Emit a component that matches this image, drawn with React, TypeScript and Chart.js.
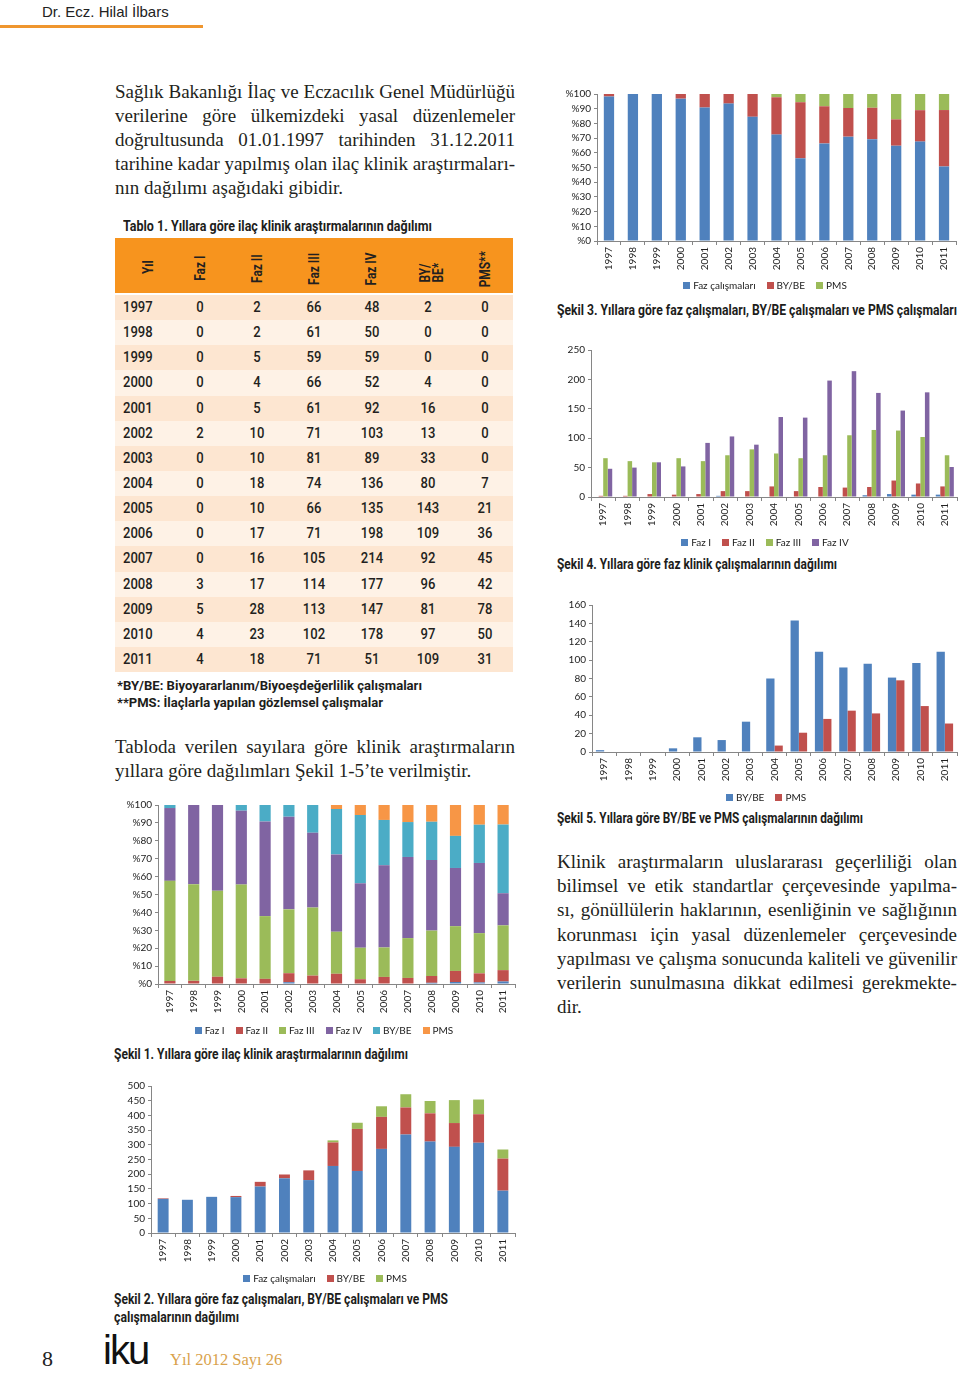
import React, { useEffect, useLayoutEffect, useRef } from 'react';
import { Chart, registerables } from 'chart.js';

Chart.register(...registerables);

// ---------- data (Tablo 1) ----------
const years = ['1997', '1998', '1999', '2000', '2001', '2002', '2003', '2004', '2005', '2006', '2007', '2008', '2009', '2010', '2011'];
const fazI = [0, 0, 0, 0, 0, 2, 0, 0, 0, 0, 0, 3, 5, 4, 4];
const fazII = [2, 2, 5, 4, 5, 10, 10, 18, 10, 17, 16, 17, 28, 23, 18];
const fazIII = [66, 61, 59, 66, 61, 71, 81, 74, 66, 71, 105, 114, 113, 102, 71];
const fazIV = [48, 50, 59, 52, 92, 103, 89, 136, 135, 198, 214, 177, 147, 178, 51];
const byBe = [2, 0, 0, 4, 16, 13, 33, 80, 143, 109, 92, 96, 81, 97, 109];
const pms = [0, 0, 0, 0, 0, 0, 0, 7, 21, 36, 45, 42, 78, 50, 31];

const tableHeaders = ['Yıl', 'Faz I', 'Faz II', 'Faz III', 'Faz IV', 'BY/\nBE*', 'PMS**'];
const seriesNames6 = ['Faz I', 'Faz II', 'Faz III', 'Faz IV', 'BY/BE', 'PMS'];
const seriesNames3 = ['Faz çalışmaları', 'BY/BE', 'PMS'];
const seriesNames2 = ['BY/BE', 'PMS'];

// derived tables
const fazTotal = years.map((_, i) => fazI[i] + fazII[i] + fazIII[i] + fazIV[i]);
const allTotal = years.map((_, i) => fazTotal[i] + byBe[i] + pms[i]);
const pct = (arr: number[]) => arr.map((v, i) => (v / allTotal[i]) * 100);

// ---------- styles ----------
const C_BLUE = '#4F81BD';
const C_RED = '#C0504D';
const C_GREEN = '#9BBB59';
const C_PURPLE = '#8064A2';
const C_TEAL = '#4BACC6';
const C_ORANGE = '#F79646';
const AXIS = '#868686';
const TXT = '#222';
const CHART_FONT = 'Lato, "Open Sans", sans-serif';
const SERIF = '"Liberation Serif", "DejaVu Serif", serif';
const SANS = '"Liberation Sans", Arial, sans-serif';
const COND = 'Roboto, "Liberation Sans", sans-serif';

const legendPlugin = {
  id: 'xlegend',
  afterDraw(chart: any, _a: any, o: any) {
    const ctx = chart.ctx as CanvasRenderingContext2D;
    ctx.save();
    ctx.font = `${o.size || 10}px ${CHART_FONT}`;
    const items = chart.data.datasets.map((d: any) => ({ t: d.label, c: d.backgroundColor }));
    const SQ = 7, G = 3, IG = 11;
    const widths = items.map((it: any) => SQ + G + ctx.measureText(it.t).width);
    const total = widths.reduce((a: number, b: number) => a + b, 0) + IG * (items.length - 1);
    let x = o.cx - total / 2;
    ctx.textBaseline = 'middle';
    ctx.textAlign = 'left';
    items.forEach((it: any, k: number) => {
      ctx.fillStyle = it.c;
      ctx.fillRect(Math.round(x), Math.round(o.cy - SQ / 2), SQ, SQ);
      ctx.fillStyle = TXT;
      ctx.fillText(it.t, x + SQ + G, o.cy + 0.5);
      x += widths[k] + IG;
    });
    ctx.restore();
  },
};

type Box = { x: number; y: number; w: number; h: number };
type Area = { l: number; t: number; r: number; b: number };
type DS = { label: string; data: number[]; color: string };

function buildConfig(
  box: Box,
  area: Area,
  datasets: DS[],
  stacked: boolean,
  yMax: number,
  yStep: number,
  percent: boolean,
  catPct: number,
  legend: { x: number; y: number }
): any {
  const XH = 30;
  const yWidth = area.l - box.x;
  const padTop = area.t - box.y;
  const padRight = box.x + box.w - area.r;
  const padBottom = box.y + box.h - area.b - XH;
  const font = { family: CHART_FONT, size: 10 };
  return {
    type: 'bar',
    data: {
      labels: years,
      datasets: datasets.map((d) => ({
        label: d.label,
        data: d.data,
        backgroundColor: d.color,
        borderWidth: 0,
        categoryPercentage: catPct,
        barPercentage: 1,
      })),
    },
    options: {
      responsive: false,
      animation: false,
      layout: { padding: { left: 0, top: padTop, right: padRight, bottom: padBottom } },
      plugins: {
        legend: { display: false },
        tooltip: { enabled: false },
        xlegend: { cx: legend.x - box.x, cy: legend.y - box.y, size: 10 },
      },
      scales: {
        x: {
          stacked,
          offset: true,
          grid: { display: true, offset: true, drawOnChartArea: false, drawTicks: true, tickLength: 4, color: AXIS },
          border: { display: true, color: AXIS },
          ticks: { minRotation: 90, maxRotation: 90, autoSkip: false, padding: 2, font, color: TXT },
          afterFit: (s: any) => {
            s.height = XH;
          },
        },
        y: {
          stacked,
          min: 0,
          max: yMax,
          grid: { display: true, drawOnChartArea: false, drawTicks: true, tickLength: 3, color: AXIS },
          border: { display: true, color: AXIS },
          ticks: {
            stepSize: yStep,
            autoSkip: false,
            padding: 3,
            font,
            color: TXT,
            callback: (v: any) => (percent ? '%' + v : String(v)),
          },
          afterFit: (s: any) => {
            s.width = yWidth;
          },
        },
      },
    },
    plugins: [legendPlugin],
  };
}

function ChartBox({ box, config }: { box: Box; config: any }) {
  const ref = useRef<HTMLCanvasElement>(null);
  useEffect(() => {
    const c = new Chart(ref.current as HTMLCanvasElement, config);
    return () => c.destroy();
  }, []);
  return (
    <canvas
      ref={ref}
      width={box.w}
      height={box.h}
      style={{ position: 'absolute', left: box.x, top: box.y, width: box.w, height: box.h }}
    />
  );
}

function Fit({ w, x, cy, size, children, weight = 700 }: { w: number; x: number; cy: number; size: number; children: any; weight?: number }) {
  const ref = useRef<HTMLSpanElement>(null);
  useLayoutEffect(() => {
    const el = ref.current;
    if (!el) return;
    el.style.transform = 'none';
    const nat = el.getBoundingClientRect().width;
    if (nat > 0) el.style.transform = `scaleX(${w / nat})`;
  }, [w]);
  return (
    <span
      ref={ref}
      style={{
        position: 'absolute',
        left: x,
        top: cy - size * 0.6,
        lineHeight: `${size * 1.2}px`,
        fontSize: size,
        fontFamily: COND,
        fontWeight: weight,
        color: '#1d1d1b',
        whiteSpace: 'nowrap',
        display: 'inline-block',
        transformOrigin: 'left center',
      }}
    >
      {children}
    </span>
  );
}

function Para({ x, top, w, lh, lines }: { x: number; top: number; w: number; lh: number; lines: string[] }) {
  return (
    <div style={{ position: 'absolute', left: x, top, width: w, fontFamily: SERIF, fontSize: 19, lineHeight: `${lh}px`, color: '#231f20' }}>
      {lines.map((t, i) =>
        i === lines.length - 1 ? (
          <div key={i} style={{ whiteSpace: 'nowrap', height: lh }}>{t}</div>
        ) : (
          <div key={i} style={{ display: 'flex', justifyContent: 'space-between', width: w, whiteSpace: 'nowrap', height: lh }}>
            {t.split(' ').map((wd, k) => (
              <span key={k}>{wd}</span>
            ))}
          </div>
        )
      )}
    </div>
  );
}

const intro = [
  'Sağlık Bakanlığı İlaç ve Eczacılık Genel Müdürlüğü',
  'verilerine göre ülkemizdeki yasal düzenlemeler',
  'doğrultusunda 01.01.1997 tarihinden 31.12.2011',
  'tarihine kadar yapılmış olan ilaç klinik araştırmaları-',
  'nın dağılımı aşağıdaki gibidir.',
];
const para2 = ['Tabloda verilen sayılara göre klinik araştırmaların', 'yıllara göre dağılımları Şekil 1-5’te verilmiştir.'];
const para3 = [
  'Klinik araştırmaların uluslararası geçerliliği olan',
  'bilimsel ve etik standartlar çerçevesinde yapılma-',
  'sı, gönüllülerin haklarının, esenliğinin ve sağlığının',
  'korunması için yasal düzenlemeler çerçevesinde',
  'yapılması ve çalışma sonucunda kaliteli ve güvenilir',
  'verilerin sunulmasına dikkat edilmesi gerekmekte-',
  'dir.',
];

const headerX = [148, 200, 257, 314, 371, 432, 485];
const colX = [200, 257, 314, 372, 428, 485];

function Table() {
  const rowH = 25.14;
  return (
    <>
      <div style={{ position: 'absolute', left: 115, top: 238, width: 398, height: 55, background: '#F7941E' }} />
      {tableHeaders.map((h, i) => (
        <div
          key={h}
          style={{
            position: 'absolute',
            left: headerX[i],
            top: i === 5 ? 271 : 266,
            transform: 'translate(-50%, -50%) rotate(-90deg)',
            whiteSpace: 'pre',
            fontFamily: COND,
            fontWeight: 700,
            fontSize: 14,
            lineHeight: '13px',
            color: '#231f20',
            textAlign: 'left',
          }}
        >
          <span style={{ display: 'inline-block', transform: 'scaleX(0.85)', transformOrigin: 'left center' }}>{h}</span>
        </div>
      ))}
      {years.map((y, i) => {
        const vals = [fazI[i], fazII[i], fazIII[i], fazIV[i], byBe[i], pms[i]];
        return (
          <div
            key={y}
            style={{
              position: 'absolute',
              left: 115,
              top: 295 + i * rowH,
              width: 398,
              height: rowH,
              background: i % 2 === 0 ? '#FDE6D1' : '#FEF2E6',
              fontFamily: COND,
              fontWeight: 500,
              fontSize: 14.5,
              color: '#231f20',
            }}
          >
            <span style={{ position: 'absolute', left: 8, top: 0, lineHeight: `${rowH}px`, transform: 'scaleX(0.9)', transformOrigin: 'left center', display: 'inline-block' }}>{y}</span>
            {vals.map((v, k) => (
              <span
                key={k}
                style={{ position: 'absolute', left: colX[k] - 115, top: 0, lineHeight: `${rowH}px`, transform: 'translateX(-50%) scaleX(0.9)', display: 'inline-block' }}
              >
                {v}
              </span>
            ))}
          </div>
        );
      })}
    </>
  );
}

export default function App() {
  const b1 = { x: 105, y: 795, w: 420, h: 245 };
  const a1 = { l: 158, t: 805, r: 515, b: 984 };
  const cfg1 = buildConfig(
    b1,
    a1,
    [
      { label: seriesNames6[0], data: pct(fazI), color: C_BLUE },
      { label: seriesNames6[1], data: pct(fazII), color: C_RED },
      { label: seriesNames6[2], data: pct(fazIII), color: C_GREEN },
      { label: seriesNames6[3], data: pct(fazIV), color: C_PURPLE },
      { label: seriesNames6[4], data: pct(byBe), color: C_TEAL },
      { label: seriesNames6[5], data: pct(pms), color: C_ORANGE },
    ],
    true,
    100,
    10,
    true,
    0.47,
    { x: 324, y: 1030 }
  );

  const b2 = { x: 105, y: 1076, w: 420, h: 212 };
  const a2 = { l: 151, t: 1086, r: 515, b: 1233 };
  const cfg2 = buildConfig(
    b2,
    a2,
    [
      { label: seriesNames3[0], data: fazTotal, color: C_BLUE },
      { label: seriesNames3[1], data: byBe, color: C_RED },
      { label: seriesNames3[2], data: pms, color: C_GREEN },
    ],
    true,
    500,
    50,
    false,
    0.45,
    { x: 325, y: 1278 }
  );

  const b3 = { x: 555, y: 84, w: 405, h: 210 };
  const a3 = { l: 597, t: 94, r: 956, b: 241 };
  const cfg3 = buildConfig(
    b3,
    a3,
    [
      { label: seriesNames3[0], data: pct(fazTotal), color: C_BLUE },
      { label: seriesNames3[1], data: pct(byBe), color: C_RED },
      { label: seriesNames3[2], data: pct(pms), color: C_GREEN },
    ],
    true,
    100,
    10,
    true,
    0.43,
    { x: 765, y: 285 }
  );

  const b4 = { x: 555, y: 338, w: 405, h: 214 };
  const a4 = { l: 591, t: 350, r: 957, b: 497 };
  const cfg4 = buildConfig(
    b4,
    a4,
    [
      { label: seriesNames6[0], data: fazI, color: C_BLUE },
      { label: seriesNames6[1], data: fazII, color: C_RED },
      { label: seriesNames6[2], data: fazIII, color: C_GREEN },
      { label: seriesNames6[3], data: fazIV, color: C_PURPLE },
    ],
    false,
    250,
    50,
    false,
    0.74,
    { x: 765, y: 542 }
  );

  const b5 = { x: 555, y: 593, w: 405, h: 214 };
  const a5 = { l: 592, t: 605, r: 957, b: 752 };
  const cfg5 = buildConfig(
    b5,
    a5,
    [
      { label: seriesNames2[0], data: byBe, color: C_BLUE },
      { label: seriesNames2[1], data: pms, color: C_RED },
    ],
    false,
    160,
    20,
    false,
    0.68,
    { x: 766, y: 797 }
  );

  return (
    <div style={{ position: 'absolute', left: 0, top: 0, width: 960, height: 1376, background: '#fff', overflow: 'hidden' }}>
      <div style={{ position: 'absolute', left: 42, top: 3, fontFamily: SANS, fontSize: 15, lineHeight: '18px', color: '#222', whiteSpace: 'nowrap' }}>
        Dr. Ecz. Hilal İlbars
      </div>
      <div style={{ position: 'absolute', left: 0, top: 25, width: 203, height: 3, background: '#EF962F' }} />

      <Para x={115} top={80} w={400} lh={24} lines={intro} />
      <Fit x={123} cy={226} w={309} size={14}>Tablo 1. Yıllara göre ilaç klinik araştırmalarının dağılımı</Fit>
      <Table />
      <Fit x={117} cy={686} w={305} size={13}>*BY/BE: Biyoyararlanım/Biyoeşdeğerlilik çalışmaları</Fit>
      <Fit x={117} cy={703} w={266} size={13}>**PMS: İlaçlarla yapılan gözlemsel çalışmalar</Fit>
      <Para x={115} top={735} w={400} lh={24} lines={para2} />

      <ChartBox box={b1} config={cfg1} />
      <Fit x={114} cy={1054} w={294} size={14}>Şekil 1. Yıllara göre ilaç klinik araştırmalarının dağılımı</Fit>

      <ChartBox box={b2} config={cfg2} />
      <Fit x={114} cy={1299} w={334} size={14}>Şekil 2. Yıllara göre faz çalışmaları, BY/BE çalışmaları ve PMS</Fit>
      <Fit x={114} cy={1317} w={125} size={14}>çalışmalarının dağılımı</Fit>

      <ChartBox box={b3} config={cfg3} />
      <Fit x={557} cy={310} w={400} size={14}>Şekil 3. Yıllara göre faz çalışmaları, BY/BE çalışmaları ve PMS çalışmaları</Fit>

      <ChartBox box={b4} config={cfg4} />
      <Fit x={557} cy={564} w={280} size={14}>Şekil 4. Yıllara göre faz klinik çalışmalarının dağılımı</Fit>

      <ChartBox box={b5} config={cfg5} />
      <Fit x={557} cy={818} w={306} size={14}>Şekil 5. Yıllara göre BY/BE ve PMS çalışmalarının dağılımı</Fit>

      <Para x={557} top={850} w={400} lh={24.2} lines={para3} />

      <div style={{ position: 'absolute', left: 42, top: 1346, fontFamily: SERIF, fontSize: 22, lineHeight: '26px', color: '#222' }}>8</div>
      <div style={{ position: 'absolute', left: 103, top: 1327, fontFamily: SANS, fontSize: 40, lineHeight: '46px', letterSpacing: -2, color: '#111' }}>iku</div>
      <div style={{ position: 'absolute', left: 170, top: 1350, fontFamily: SERIF, fontSize: 16.5, lineHeight: '20px', color: '#D9A24B', whiteSpace: 'nowrap' }}>
        Yıl 2012 Sayı 26
      </div>
    </div>
  );
}
